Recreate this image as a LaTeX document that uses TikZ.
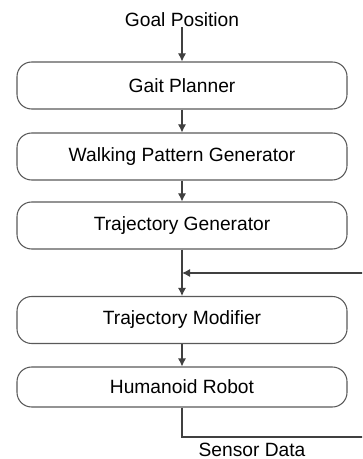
\documentclass[tikz,border=0pt]{standalone}
\usepackage{fontspec}
\setmainfont{Liberation Sans}
\usetikzlibrary{arrows.meta}
\begin{document}
\begin{tikzpicture}[x=0.75pt,y=-0.75pt,
    block/.style={draw=black!65,line width=0.8pt,rounded corners=11pt,
      minimum width=247.5pt,inner sep=0pt,font=\fontsize{14.4}{17}\selectfont},
    flow/.style={draw=black!75,line width=0.8pt,-{Latex[length=6pt,width=6pt]}},
    lbl/.style={font=\fontsize{14.4}{17}\selectfont,inner sep=0pt}]
      \useasboundingbox (0,0) rectangle (362,459);
      \clip (0,0) rectangle (362,459);

      \node[lbl] (goal) at (182,20) {Goal Position};
      \node[block,minimum height=35.25pt] (gait) at (182,85.5) {Gait Planner};
      \node[block,minimum height=35.25pt] (walk) at (182,156.5) {Walking Pattern Generator};
      \node[block,minimum height=35.25pt] (tgen) at (182,225.5) {Trajectory Generator};
      \node[block,minimum height=35.25pt] (tmod) at (182,320) {Trajectory Modifier};
      \node[block,minimum height=30pt] (robot) at (182,387) {Humanoid Robot};
      \node[lbl] (sensor) at (252,450) {Sensor Data};

      \coordinate (fb) at (182,273);
      \coordinate (c1) at (182,437);
      \coordinate (c2) at (372,437);

      \draw[flow] (goal) -- (gait);
      \draw[flow] (gait) -- (walk);
      \draw[flow] (walk) -- (tgen);
      \draw[flow] (tgen) -- (tmod);
      \draw[flow] (tmod) -- (robot);
      \draw[flow] (robot.south) -- (c1) -- (c2) |- (fb);
    \end{tikzpicture}
\end{document}
